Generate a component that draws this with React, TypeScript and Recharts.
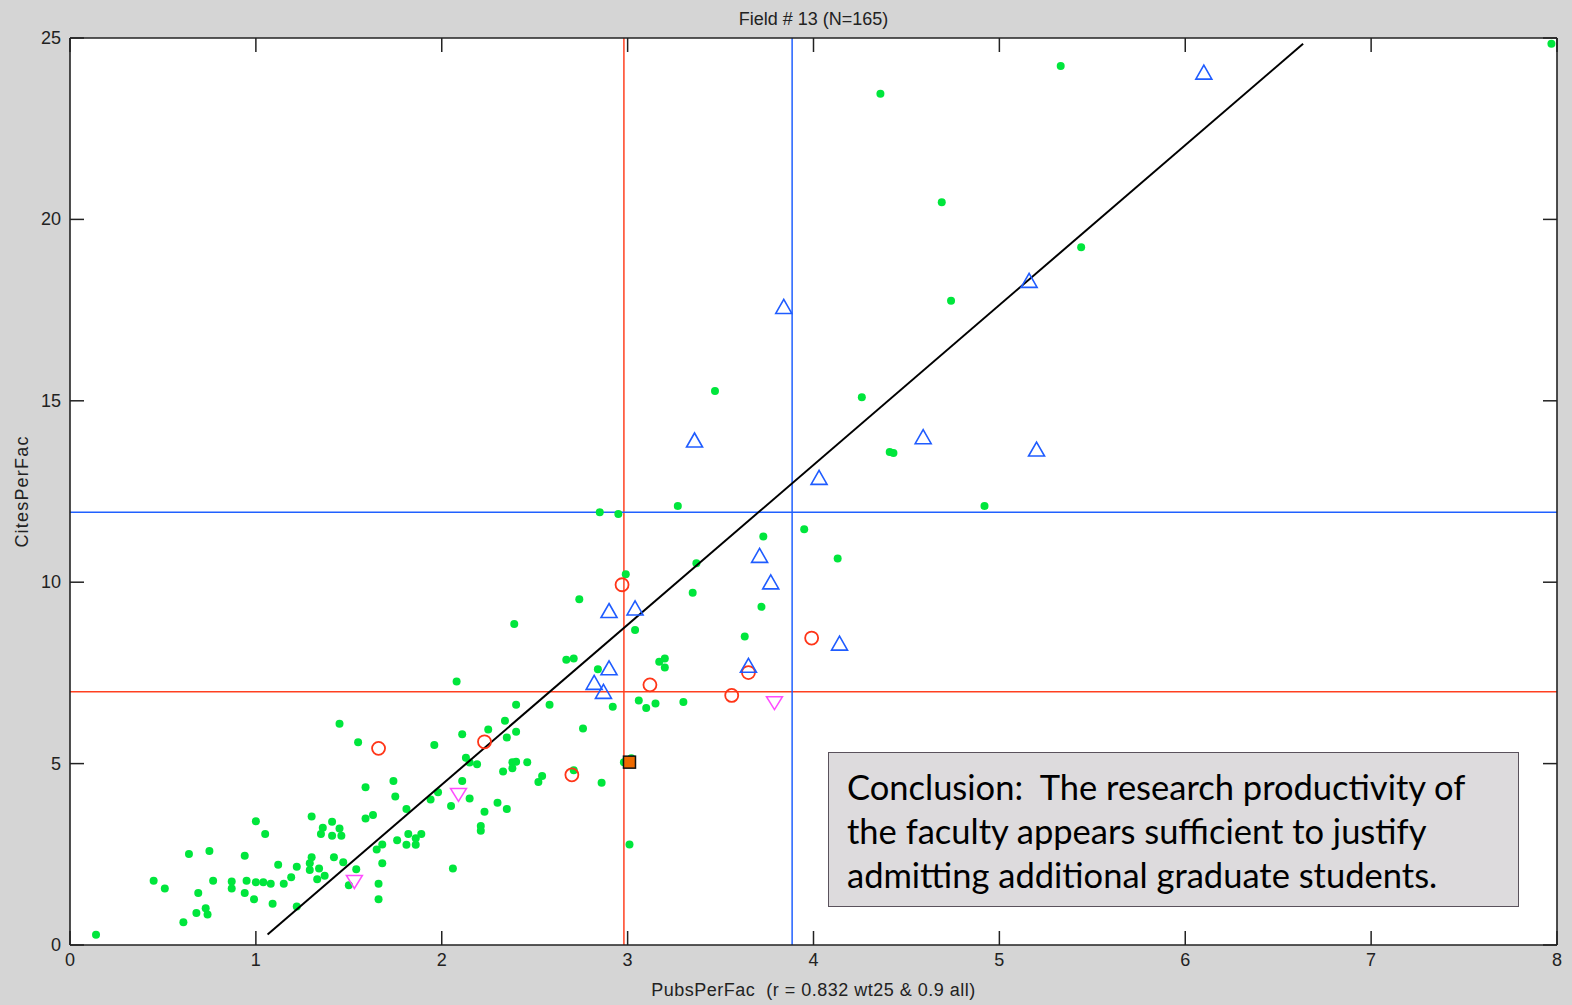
import React from "react";
import { ScatterChart, Scatter, XAxis, YAxis, ReferenceLine } from "recharts";

const xTicks = [0, 1, 2, 3, 4, 5, 6, 7, 8];
const yTicks = [0, 5, 10, 15, 20, 25];
const xDomain = [0, 8];
const yDomain = [0, 25];

// green dots (all other programs)
const greenPubs = [
  0.14, 0.45, 0.51, 0.61, 0.68, 0.69, 0.64, 0.75, 0.73, 0.74, 0.77, 0.87, 0.87, 0.94, 0.94, 0.95, 0.99,
  1.0, 1.05, 1.0, 1.04, 1.08, 1.09, 1.15, 1.12, 1.19, 1.22, 1.22, 1.3, 1.3, 1.29, 1.29, 1.34, 1.33, 1.37,
  1.36, 1.35, 1.41, 1.41, 1.45, 1.46, 1.42, 1.47, 1.45, 1.55, 1.54, 1.5, 1.59, 1.59, 1.63, 1.65, 1.68,
  1.68, 1.66, 1.66, 1.74, 1.75, 1.81, 1.76, 1.81, 1.82, 1.86, 1.86, 1.89, 1.94, 1.96, 1.98, 2.05, 2.06,
  2.11, 2.11, 2.13, 2.15, 2.19, 2.15, 2.21, 2.21, 2.23, 2.25, 2.3, 2.34, 2.35, 2.33, 2.35,
  2.99, 3.37, 2.74, 3.35, 3.72, 3.63, 3.04, 2.39, 2.67, 2.71, 3.17, 3.2, 3.2, 2.84, 2.08, 2.4, 2.58, 2.92,
  3.06, 3.1, 3.15, 3.3, 2.76, 2.4, 2.38, 2.4, 2.46, 2.38, 2.54, 2.52, 2.71, 2.86, 2.98, 3.02, 3.01,
  2.85, 2.95, 3.27, 3.73, 3.95, 4.13, 3.47, 4.26, 7.97, 5.33, 4.36, 4.69, 5.44, 4.74, 4.41, 4.43, 4.92,
];
const greenCites = [
  0.28, 1.77, 1.56, 0.63, 0.88, 1.43, 2.51, 2.59, 1.01, 0.84, 1.77, 1.75, 1.56, 2.46, 1.43, 1.77, 1.26,
  3.41, 3.06, 1.73, 1.73, 1.69, 1.14, 1.69, 2.21, 1.87, 2.16, 1.06, 3.54, 2.42, 2.25, 2.07, 2.11, 1.81, 1.91,
  3.23, 3.06, 3.4, 3.01, 3.21, 3.01, 2.42, 2.28, 6.1, 5.59, 2.09, 1.65, 4.35, 3.49, 3.58, 2.63, 2.77,
  2.25, 1.69, 1.26, 4.52, 4.09, 3.75, 2.89, 2.76, 3.06, 2.76, 2.94, 3.06, 4.01, 5.51, 4.21, 3.83, 2.11,
  4.52, 5.81, 5.16, 5.03, 4.98, 4.04, 3.28, 3.15, 3.67, 5.94, 3.92, 6.18, 5.72, 4.78, 3.75,
  10.22, 10.52, 9.53, 9.71, 9.32, 8.5, 8.68, 8.85, 7.86, 7.9, 7.81, 7.9, 7.65, 7.6, 7.26, 6.62, 6.62, 6.57,
  6.74, 6.53, 6.66, 6.7, 5.97, 5.88, 5.04, 5.05, 5.04, 4.87, 4.66, 4.49, 4.82, 4.47, 5.04, 5.15, 2.77,
  11.93, 11.88, 12.1, 11.26, 11.46, 10.65, 15.27, 15.1, 24.84, 24.23, 23.46, 20.47, 19.23, 17.76, 13.59, 13.56, 12.1,
];

// blue up-triangles
const bluePubs = [2.9, 3.04, 2.9, 2.82, 2.87, 3.71, 3.77, 3.65, 4.14, 3.36, 4.03, 4.59, 5.2, 6.1, 5.16, 3.84];
const blueCites = [9.22, 9.29, 7.64, 7.24, 6.99, 10.74, 10.01, 7.71, 8.32, 13.92, 12.89, 14.01, 13.67, 24.06, 18.32, 17.6];

// red open circles
const redPubs = [1.66, 2.23, 2.97, 3.12, 3.56, 3.65, 3.99, 2.7];
const redCites = [5.42, 5.6, 9.93, 7.17, 6.88, 7.51, 8.46, 4.69];

// magenta down-triangles
const magentaPubs = [1.53, 2.09, 3.79];
const magentaCites = [1.75, 4.15, 6.68];

// highlighted program (orange square)
const focusPubs = [3.01];
const focusCites = [5.04];

// regression line end points
const fitPubs = [1.063, 6.634];
const fitCites = [0.29, 24.84];

// cut-off lines
const redCutPubs = 2.98;
const blueCutPubs = 3.885;
const redCutCites = 6.98;
const blueCutCites = 11.93;

const pts = (xs: number[], ys: number[]) => xs.map((x, i) => ({ x, y: ys[i] }));

const AXIS = "#222";
const FONT = "'Liberation Sans', Arial, sans-serif";

// chart geometry
const CW = 1572;
const CH = 1005;
const M = { top: 38, right: 15, bottom: 30, left: 10 };
const Y_AXIS_W = 60;
const X_AXIS_H = 30;
const PLOT_W = CW - M.left - M.right - Y_AXIS_W;
const PLOT_H = CH - M.top - M.bottom - X_AXIS_H;
const TICK_PX = 14;
// inward tick length in data units
const tickDY = ((yDomain[1] - yDomain[0]) * TICK_PX) / PLOT_H;
const tickDX = ((xDomain[1] - xDomain[0]) * TICK_PX) / PLOT_W;

const GreenDot = (p: any) => <circle cx={p.cx} cy={p.cy} r={4} fill="#00e63c" />;
const UpTri = (p: any) => (
  <path
    d={`M${p.cx},${p.cy - 7} L${p.cx + 8},${p.cy + 7} L${p.cx - 8},${p.cy + 7} Z`}
    fill="none"
    stroke="#1f5cff"
    strokeWidth={1.6}
  />
);
const DownTri = (p: any) => (
  <path
    d={`M${p.cx - 8},${p.cy - 6} L${p.cx + 8},${p.cy - 6} L${p.cx},${p.cy + 7} Z`}
    fill="none"
    stroke="#ff4cff"
    strokeWidth={1.5}
  />
);
const RedRing = (p: any) => (
  <circle cx={p.cx} cy={p.cy} r={6.5} fill="none" stroke="#ff3518" strokeWidth={1.8} />
);
const OrangeSquare = (p: any) => (
  <rect x={p.cx - 6} y={p.cy - 6} width={12} height={12} fill="#ee6a00" stroke="#111" strokeWidth={1.5} />
);

const BottomLabel = ({ x, y, payload }: any) => (
  <text x={x} y={y + 21} textAnchor="middle" fontSize={18} fill={AXIS} fontFamily={FONT}>
    {payload.value}
  </text>
);
const LeftLabel = ({ x, y, payload }: any) => (
  <text x={x - 9} y={y + 6} textAnchor="end" fontSize={18} fill={AXIS} fontFamily={FONT}>
    {payload.value}
  </text>
);

export default function App() {
  const tickSegs: { x: number; y: number }[][] = [];
  xTicks.forEach((t) => {
    tickSegs.push([{ x: t, y: yDomain[0] }, { x: t, y: yDomain[0] + tickDY }]);
    tickSegs.push([{ x: t, y: yDomain[1] }, { x: t, y: yDomain[1] - tickDY }]);
  });
  yTicks.forEach((t) => {
    tickSegs.push([{ x: xDomain[0], y: t }, { x: xDomain[0] + tickDX, y: t }]);
    tickSegs.push([{ x: xDomain[1], y: t }, { x: xDomain[1] - tickDX, y: t }]);
  });

  return (
    <div style={{ position: "absolute", left: 0, top: 0, width: CW, height: CH, background: "#d5d5d5", fontFamily: FONT }}>
      {/* white plot area behind the svg */}
      <div
        style={{
          position: "absolute",
          left: M.left + Y_AXIS_W,
          top: M.top,
          width: PLOT_W,
          height: PLOT_H,
          background: "#fff",
        }}
      />
      <div
        style={{
          position: "absolute",
          left: M.left + Y_AXIS_W,
          width: PLOT_W,
          top: 8,
          textAlign: "center",
          fontSize: 18,
          lineHeight: "22px",
          color: AXIS,
        }}
      >
        Field # 13 (N=165)
      </div>
      <div style={{ position: "absolute", left: 0, top: 0 }}>
        <ScatterChart width={CW} height={CH} margin={M}>
          <XAxis
            type="number"
            dataKey="x"
            domain={xDomain}
            ticks={xTicks}
            interval={0}
            height={X_AXIS_H}
            tickSize={0}
            tickMargin={0}
            tickLine={false}
            axisLine={false}
            tick={<BottomLabel />}
            label={{
              value: "PubsPerFac\u00a0\u00a0(r = 0.832 wt25 & 0.9 all)",
              position: "bottom",
              offset: 8,
              fontSize: 18,
              letterSpacing: 0.5,
              fill: AXIS,
              fontFamily: FONT,
            }}
          />
          <YAxis
            type="number"
            dataKey="y"
            domain={yDomain}
            ticks={yTicks}
            interval={0}
            width={Y_AXIS_W}
            tickSize={0}
            tickMargin={0}
            tickLine={false}
            axisLine={false}
            tick={<LeftLabel />}
            label={{
              content: ({ viewBox }: any) => {
                const cx = viewBox.x + 18;
                const cy = viewBox.y + viewBox.height / 2;
                return (
                  <text
                    x={cx}
                    y={cy}
                    transform={`rotate(-90, ${cx}, ${cy})`}
                    textAnchor="middle"
                    fontSize={18}
                    letterSpacing={1.2}
                    fill={AXIS}
                    fontFamily={FONT}
                  >
                    CitesPerFac
                  </text>
                );
              },
            }}
          />
          <ReferenceLine x={redCutPubs} stroke="#ff4020" strokeWidth={1.5} />
          <ReferenceLine y={redCutCites} stroke="#ff4020" strokeWidth={1.5} />
          <ReferenceLine x={blueCutPubs} stroke="#2060ff" strokeWidth={1.5} />
          <ReferenceLine y={blueCutCites} stroke="#2060ff" strokeWidth={1.5} />
          {/* box and inward ticks */}
          <ReferenceLine x={xDomain[0]} stroke={AXIS} strokeWidth={1.6} />
          <ReferenceLine x={xDomain[1]} stroke={AXIS} strokeWidth={1.6} />
          <ReferenceLine y={yDomain[0]} stroke={AXIS} strokeWidth={1.6} />
          <ReferenceLine y={yDomain[1]} stroke={AXIS} strokeWidth={1.6} />
          {tickSegs.map((seg, i) => (
            <ReferenceLine key={i} segment={seg} stroke={AXIS} strokeWidth={1.5} />
          ))}
          <Scatter data={pts(greenPubs, greenCites)} shape={<GreenDot />} isAnimationActive={false} />
          <Scatter
            data={pts(fitPubs, fitCites)}
            line={{ stroke: "#000", strokeWidth: 2 }}
            lineType="joint"
            shape={() => <g />}
            isAnimationActive={false}
          />
          <Scatter data={pts(magentaPubs, magentaCites)} shape={<DownTri />} isAnimationActive={false} />
          <Scatter data={pts(redPubs, redCites)} shape={<RedRing />} isAnimationActive={false} />
          <Scatter data={pts(bluePubs, blueCites)} shape={<UpTri />} isAnimationActive={false} />
          <Scatter data={pts(focusPubs, focusCites)} shape={<OrangeSquare />} isAnimationActive={false} />
        </ScatterChart>
      </div>
      <div
        style={{
          position: "absolute",
          left: 828,
          top: 752,
          width: 691,
          height: 155,
          boxSizing: "border-box",
          background: "#dddbdd",
          border: "1.5px solid #5a525c",
          padding: "12px 0 0 18px",
          fontFamily: "Lato, 'Open Sans', sans-serif",
          fontSize: 34.5,
          lineHeight: "44px",
          color: "#000",
          whiteSpace: "nowrap",
        }}
      >
        <div>Conclusion:&nbsp; The research productivity of</div>
        <div>the faculty appears sufficient to justify</div>
        <div>admitting additional graduate students.</div>
      </div>
    </div>
  );
}
